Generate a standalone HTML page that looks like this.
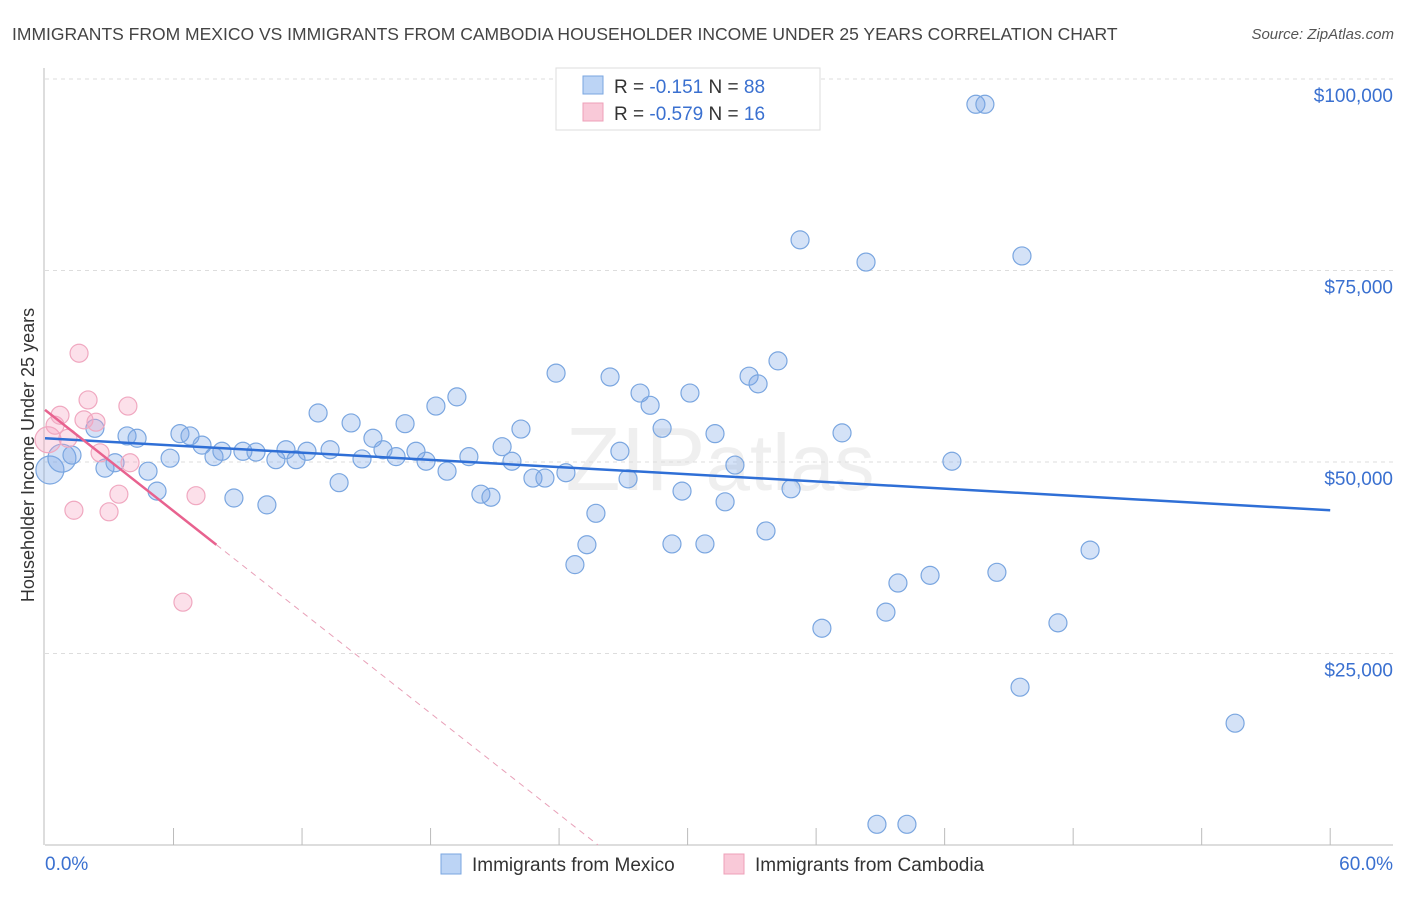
<!DOCTYPE html>
<html><head><meta charset="utf-8"><style>
body{margin:0;background:#fff;font-family:"Liberation Sans",sans-serif;}
svg text{font-family:"Liberation Sans",sans-serif;}
</style></head><body>
<svg id="chart" width="1406" height="892">
<text x="12" y="40" font-size="17.5" fill="#444">IMMIGRANTS FROM MEXICO VS IMMIGRANTS FROM CAMBODIA HOUSEHOLDER INCOME UNDER 25 YEARS CORRELATION CHART</text>
<text x="1394" y="39" font-size="15" fill="#555" font-style="italic" text-anchor="end">Source: ZipAtlas.com</text>
<text x="720" y="490" font-size="90" fill="#000" opacity="0.06" text-anchor="middle" font-family="Liberation Serif">ZIP<tspan font-family="Liberation Sans" font-size="80">atlas</tspan></text>
<g id="grid"></g><g id="axes"></g><g id="pts"></g><g id="lines"></g>
<text transform="translate(34,455) rotate(-90)" font-size="18" fill="#333" text-anchor="middle">Householder Income Under 25 years</text>
<text x="45" y="870" font-size="19" fill="#3a70d0">0.0%</text>
<text x="1393" y="870" font-size="19" fill="#3a70d0" text-anchor="end">60.0%</text>
<g>
<rect x="556" y="68" width="264" height="62" fill="#fff" stroke="#ddd"/>
<rect x="583" y="76" width="20" height="18" fill="#bcd4f5" stroke="#7aa6e0"/>
<rect x="583" y="103" width="20" height="18" fill="#f9c9d8" stroke="#eea0b8"/>
<text x="614" y="93" font-size="19" fill="#333">R = <tspan fill="#3a70d0"> -0.151</tspan>   N = <tspan fill="#3a70d0">88</tspan></text>
<text x="614" y="120" font-size="19" fill="#333">R = <tspan fill="#3a70d0">-0.579</tspan>   N = <tspan fill="#3a70d0"> 16</tspan></text>
</g>
<g>
<rect x="441" y="854" width="20" height="20" fill="#bcd4f5" stroke="#7aa6e0"/>
<text x="472" y="871" font-size="19" fill="#333">Immigrants from Mexico</text>
<rect x="724" y="854" width="20" height="20" fill="#f9c9d8" stroke="#eea0b8"/>
<text x="755" y="871" font-size="19" fill="#333">Immigrants from Cambodia</text>
</g>
</svg>
<script>
const yTicks=[25000,50000,75000,100000];
const yTickLabels=["$25,000","$50,000","$75,000","$100,000"];
const mexicoX=[0.23,0.79,1.26,2.33,2.80,3.27,3.83,4.30,4.81,5.23,5.84,6.30,6.77,7.33,7.89,8.26,8.82,9.24,9.85,10.36,10.78,11.25,11.72,12.23,12.75,13.31,13.73,14.29,14.80,15.31,15.78,16.39,16.81,17.32,17.79,18.25,18.77,19.23,19.79,20.35,20.82,21.34,21.80,22.22,22.78,23.34,23.86,24.32,24.74,25.30,25.72,26.38,26.84,27.22,27.78,28.25,28.81,29.27,29.74,30.11,30.81,31.28,31.75,32.21,32.87,33.29,33.66,34.22,34.83,35.25,36.27,37.21,38.33,38.84,39.26,39.82,40.24,41.32,42.34,43.46,43.88,44.44,45.52,45.61,47.29,48.79,55.56];
const mexicoY=[48960,50500,50900,54400,49200,49900,53400,53100,48800,46200,50500,53700,53400,52200,50700,51400,45300,51400,51300,44400,50300,51600,50300,51400,56400,51600,47300,55100,50400,53100,51600,50700,55000,51400,50100,57300,48800,58500,50700,45800,45400,52000,50100,54300,47900,47900,61600,48600,36600,39200,43300,61100,51400,47800,59000,57400,54400,39300,46200,59000,39300,53700,44800,49600,61200,60200,41000,63200,46500,79000,28300,53800,76100,2700,30400,34200,2700,35200,50100,96700,96700,35600,20600,76900,29000,38500,15900];
const cambodiaX=[0.14,0.47,0.70,1.07,1.59,1.35,2.01,1.82,2.38,2.57,2.99,3.45,3.87,3.97,7.05,6.44];
const cambodiaY=[52900,54800,56100,53100,64200,43700,58100,55500,55200,51200,43500,45800,57300,49900,45600,31700];
const mexicoTrend=[53100,43700]; // values at 0% and 60%
const cambodiaTrend=[56800,-2200]; // intercept, slope per %
const NS="http://www.w3.org/2000/svg";
const X=p=>45+p*21.42, Y=v=>845-v/25000*191.5;
function mk(tag,parent,attrs){const e=document.createElementNS(NS,tag);for(const k in attrs)e.setAttribute(k,attrs[k]);document.getElementById(parent).appendChild(e);return e;}
yTicks.forEach((t,i)=>{
 let g=mk('line','grid',{x1:45,x2:1393,y1:Y(t),y2:Y(t),stroke:'#ddd','stroke-dasharray':'4,4'});
 
 
 let tx=mk('text','grid',{x:1393,y:Y(t)+23,'font-size':19,fill:'#3a70d0','text-anchor':'end'});
 tx.textContent=yTickLabels[i];
 
 
});
let ax=mk('line','axes',{x1:45,x2:1393,y1:845,y2:845,stroke:'#bbb'});


let ay=mk('line','axes',{x1:44,x2:44,y1:68,y2:845,stroke:'#bbb'});


for(let i=1;i<=10;i++){
 let t=mk('line','axes',{x1:X(i*6),x2:X(i*6),y1:828,y2:845,stroke:'#bbb'});
 
 
}
mexicoX.forEach((x,i)=>{
 const big=x<1;
 let c=mk('circle','pts',{cx:X(x),cy:Y(mexicoY[i]),r:big?14:9,fill:'rgba(120,165,230,0.32)',stroke:'#7aa6e0','stroke-width':1.2});
 
 
});
cambodiaX.forEach((x,i)=>{
 let c=mk('circle','pts',{cx:X(x),cy:Y(cambodiaY[i]),r:i==0?13:9,fill:'rgba(245,160,190,0.33)',stroke:'#f0a8c0','stroke-width':1.2});
 
 
});
let bl=mk('line','lines',{x1:X(0),y1:Y(mexicoTrend[0]),x2:X(60),y2:Y(mexicoTrend[1]),stroke:'#2f6fd6','stroke-width':2.5});


const cf=p=>cambodiaTrend[0]+cambodiaTrend[1]*p;
const pEnd=-cambodiaTrend[0]/cambodiaTrend[1];
let pl=mk('line','lines',{x1:X(0),y1:Y(cf(0)),x2:X(8),y2:Y(cf(8)),stroke:'#e8628f','stroke-width':2.5});


let pd=mk('line','lines',{x1:X(8),y1:Y(cf(8)),x2:X(pEnd),y2:Y(0),stroke:'#e8a0b8','stroke-width':1,'stroke-dasharray':'6,5'});


</script>
</body></html>
